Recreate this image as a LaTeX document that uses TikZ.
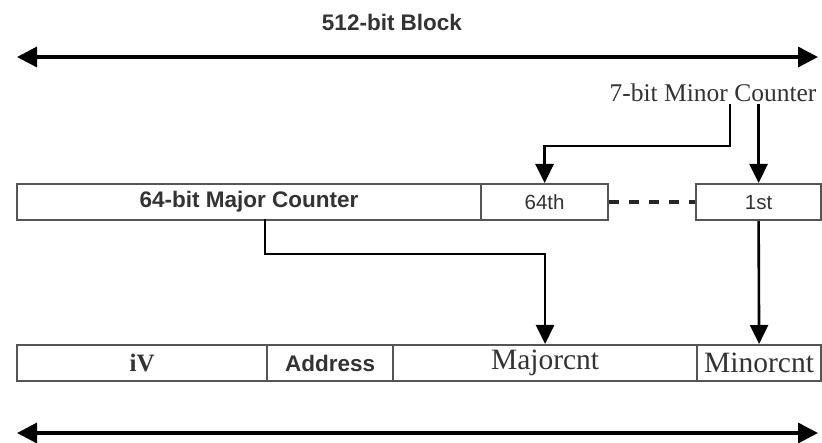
\documentclass[tikz,border=0pt]{standalone}
\usepackage{fontspec}
\setmainfont{Liberation Serif}
\setsansfont{Liberation Sans}
\usetikzlibrary{arrows.meta}
\definecolor{boxline}{HTML}{555555}
\definecolor{txt}{HTML}{333333}
\tikzset{
  cell/.style={draw=boxline, line width=2.2pt, inner sep=0pt, anchor=north west, fill=white},
  midcell/.style={cell, minimum height=36pt},
  lowcell/.style={cell, minimum height=36pt},
  sansbold/.style={font=\sffamily\bfseries\fontsize{22.5}{22.5}\selectfont, text=txt},
  sansreg/.style={font=\sffamily\fontsize{20.5}{20.5}\selectfont, text=txt},
  serifbig/.style={font=\rmfamily\fontsize{29.5}{29.5}\selectfont, text=txt},
  conn/.style={line width=2.6pt, -{Triangle[length=19pt,width=18pt]}},
  span/.style={line width=3.4pt, {Triangle[length=20pt,width=20pt]}-{Triangle[length=20pt,width=20pt]}},
}
\begin{document}
\begin{tikzpicture}[x=1pt,y=-1pt]
\useasboundingbox[fill=white] (0,0) rectangle (822,443);

% title and top span
\node[sansbold] (title) at (392,22) {512-bit Block};
\coordinate (tl) at (17,57);
\coordinate (tr) at (818,57);
\draw[span] (tl) -- (tr);

% minor counter label
\node[font=\rmfamily\fontsize{25.5}{25.5}\selectfont, text=txt, inner sep=0pt] (mc) at (713,93) {7-bit Minor Counter};
\coordinate (m1) at (730,104);

% middle row
\node[midcell, minimum width=464pt, sansbold] (major) at (16,183) {64-bit Major Counter};
\node[midcell, minimum width=127pt, sansreg] (c64) at (480,183) {64th};
\node[midcell, minimum width=125pt, sansreg] (c1) at (695,183) {1st};
\draw[black!85, line width=3.5pt, dash pattern=on 10pt off 10pt] (c64.east) -- (c1.west);

% bottom row
\node[lowcell, minimum width=250pt, font=\rmfamily\bfseries\fontsize{25}{25}\selectfont, text=txt] (iv) at (16,344) {iV};
\node[lowcell, minimum width=126pt, sansbold] (addr) at (266,344) {Address};
\node[lowcell, minimum width=304pt, serifbig] (majc) at (392,344) {Majorcnt};
\node[lowcell, minimum width=124pt, serifbig] (minc) at (696,344) {Minorcnt};

% connectors
\draw[conn] (m1) -- (730,146) -| (c64.north);
\draw[conn] (c1.north |- m1) -- (c1.north);
\coordinate (majout) at (265,219);
\draw[conn] (majout) -- (265,254) -| (majc.north);
\draw[conn] (c1.south) -- (minc.north);

% bottom span
\coordinate (bl) at (17,433);
\coordinate (br) at (818,433);
\draw[span] (bl) -- (br);
\end{tikzpicture}
\end{document}
